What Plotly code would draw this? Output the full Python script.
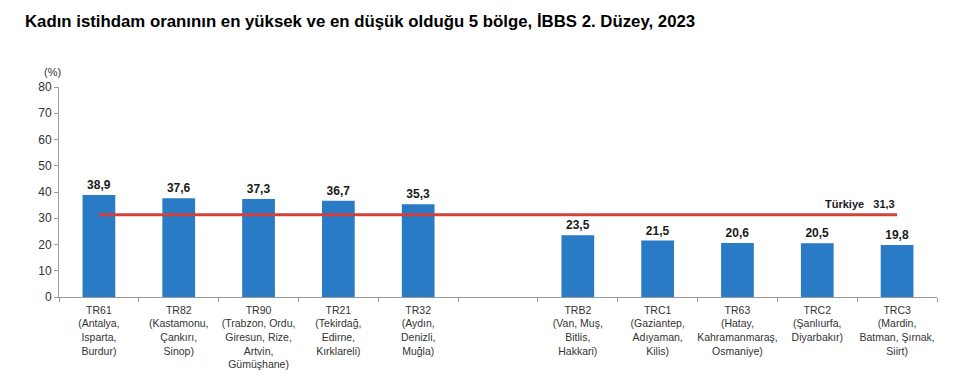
import plotly.graph_objects as go

codes = ["TR61", "TR82", "TR90", "TR21", "TR32", "TRB2", "TRC1", "TR63", "TRC2", "TRC3"]
provinces = [
    "(Antalya,<br>Isparta,<br>Burdur)",
    "(Kastamonu,<br>Çankırı,<br>Sinop)",
    "(Trabzon, Ordu,<br>Giresun, Rize,<br>Artvin,<br>Gümüşhane)",
    "(Tekirdağ,<br>Edirne,<br>Kırklareli)",
    "(Aydın,<br>Denizli,<br>Muğla)",
    "(Van, Muş,<br>Bitlis,<br>Hakkari)",
    "(Gaziantep,<br>Adıyaman,<br>Kilis)",
    "(Hatay,<br>Kahramanmaraş,<br>Osmaniye)",
    "(Şanlıurfa,<br>Diyarbakır)",
    "(Mardin,<br>Batman, Şırnak,<br>Siirt)",
]
values = [38.9, 37.6, 37.3, 36.7, 35.3, 23.5, 21.5, 20.6, 20.5, 19.8]
turkiye = 31.3
y_ticks = [0, 10, 20, 30, 40, 50, 60, 70, 80]

# slot positions: 5 highest, one empty slot, 5 lowest
xpos = [i if i < 5 else i + 1 for i in range(len(codes))]
labels = [f"{c}<br>{p}" for c, p in zip(codes, provinces)]
fmt = lambda v: f"{v:.1f}".replace(".", ",")

fig = go.Figure()
fig.add_trace(go.Bar(
    x=xpos, y=values, width=0.41,
    marker=dict(color="#2A7BC6", line=dict(width=0)),
    text=[fmt(v) for v in values], textposition="outside",
    textfont=dict(family="Liberation Sans, Arial", size=12, color="#1a1a1a", weight="bold"),
    cliponaxis=False, showlegend=False,
))
fig.add_trace(go.Scatter(
    x=[xpos[0], xpos[-1]], y=[turkiye, turkiye], mode="lines",
    line=dict(color="#D2413C", width=3), showlegend=False, hoverinfo="skip",
))
fig.add_annotation(
    x=xpos[-1], y=turkiye, xref="x", yref="y", xanchor="right", yanchor="bottom",
    text=f"<b>Türkiye   {fmt(turkiye)}</b>", showarrow=False, yshift=3,
    font=dict(family="Liberation Sans, Arial", size=11, color="#1a1a1a"),
)
fig.add_annotation(
    x=0, y=1, xref="paper", yref="paper", xanchor="right", yanchor="bottom",
    text="(%)", showarrow=False, xshift=4, yshift=7,
    font=dict(family="Liberation Sans, Arial", size=11, color="#333"),
)

fig.update_layout(
    width=972, height=382,
    margin=dict(l=59, r=35, t=87, b=85, autoexpand=False),
    paper_bgcolor="white", plot_bgcolor="white",
    title=dict(
        text="<b>Kadın istihdam oranının en yüksek ve en düşük olduğu 5 bölge, İBBS 2. Düzey, 2023</b>",
        x=25 / 972, xanchor="left", y=1 - 21 / 382, yanchor="middle",
        font=dict(family="Liberation Sans, Arial", size=16.8, color="#000"),
    ),
    xaxis=dict(
        range=[-0.5, 10.5], tickmode="array", tickvals=xpos, ticktext=labels,
        ticks="", showgrid=False, zeroline=False, ticklabelstandoff=3, automargin=False,
        showline=True, linecolor="#9a9a9a", linewidth=1,
        tickfont=dict(family="Liberation Sans, Arial", size=10.5, color="#333"),
        minor=dict(tickmode="array", tickvals=[i - 0.5 for i in range(12)],
                   ticks="outside", ticklen=4, tickcolor="#9a9a9a", showgrid=False),
    ),
    yaxis=dict(
        range=[0, 80], tickmode="array", tickvals=y_ticks, automargin=False,
        showgrid=False, zeroline=False,
        showline=True, linecolor="#9a9a9a", linewidth=1,
        ticks="outside", ticklen=4, tickcolor="#9a9a9a",
        tickfont=dict(family="Liberation Sans, Arial", size=12, color="#333"),
    ),
)

fig.write_html("out.html")
